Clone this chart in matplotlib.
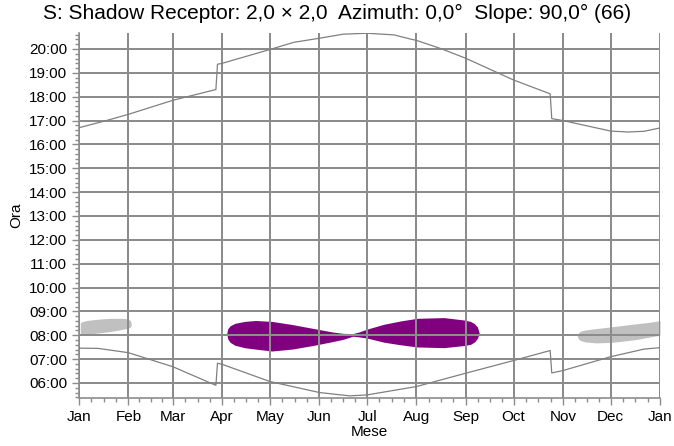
import matplotlib
matplotlib.use("Agg")
import matplotlib.pyplot as plt
import numpy as np

plt.rcParams['font.family'] = ['Liberation Sans', 'DejaVu Sans']

# ---- data (day of year, Jan 1 = 0; hours as decimal) ----
month_days = [0, 31, 59, 90, 120, 151, 181, 212, 243, 273, 304, 334, 365]
month_labels = ["Jan", "Feb", "Mar", "Apr", "May", "Jun", "Jul", "Aug",
                "Sep", "Oct", "Nov", "Dec", "Jan"]
hour_ticks = list(range(6, 21))
hour_labels = ["%02d:00" % h for h in hour_ticks]

sunset_days = [0, 15, 31, 59, 86, 87, 90, 120, 135, 151, 166, 181, 198, 208, 212,
               228, 243, 273, 296, 297, 304, 334, 345, 355, 365]
sunset_hours = [16.70, 16.96, 17.26, 17.85, 18.30, 19.36, 19.40, 19.98, 20.28, 20.45,
                20.62, 20.66, 20.59, 20.42, 20.36, 20.00, 19.61, 18.70, 18.12, 17.08,
                17.00, 16.56, 16.52, 16.55, 16.69]

sunrise_days = [0, 12, 31, 59, 86, 87, 90, 120, 151, 170, 181, 212, 243, 273,
                296, 297, 304, 334, 355, 365]
sunrise_hours = [7.46, 7.45, 7.27, 6.68, 5.90, 6.83, 6.78, 6.06, 5.60, 5.46, 5.50,
                 5.85, 6.41, 6.94, 7.36, 6.42, 6.52, 7.10, 7.42, 7.48]

# shadow (purple)
shadow_days = [92.8, 93.5, 95.0, 98.0, 104, 110.8, 121.3, 133.9, 148.5, 159.0, 166.0,
               172.0, 176.0, 181.1, 191.5, 202.0, 212.5, 229.3, 241.9, 246.0,
               248.5, 250.3, 251.4]
shadow_top = [8.08, 8.28, 8.40, 8.50, 8.58, 8.62, 8.58, 8.45, 8.27, 8.14, 8.08,
              8.07, 8.14, 8.26, 8.46, 8.60, 8.71, 8.74, 8.64, 8.58, 8.48, 8.35, 8.10]
shadow_bottom = [8.06, 7.84, 7.70, 7.58, 7.48, 7.42, 7.34, 7.42, 7.59, 7.73, 7.83,
                 7.96, 7.93, 7.88, 7.71, 7.60, 7.51, 7.48, 7.57, 7.62, 7.72, 7.87, 8.08]

# gray patches
gray1_days = [0.8, 1.5, 5, 10, 15, 20, 25, 29, 31, 32.2, 32.8]
gray1_top = [8.50, 8.56, 8.62, 8.66, 8.69, 8.71, 8.71, 8.70, 8.67, 8.62, 8.50]
gray1_bottom = [8.10, 8.04, 8.05, 8.08, 8.12, 8.16, 8.22, 8.27, 8.30, 8.34, 8.42]

gray2_days = [313.0, 313.8, 315, 318, 325, 334, 340, 350, 358, 365]
gray2_top = [8.00, 8.10, 8.17, 8.22, 8.28, 8.35, 8.40, 8.48, 8.54, 8.61]
gray2_bottom = [7.96, 7.84, 7.78, 7.72, 7.68, 7.70, 7.74, 7.82, 7.92, 8.00]

# ---- figure ----
fig = plt.figure(figsize=(6.74, 4.46), dpi=100)
ax = fig.add_axes([79/674, 1-398/446, (660-79)/674, (398-33)/446])

ax.fill_between(gray1_days, gray1_bottom, gray1_top, color='#c0c0c0', lw=0, zorder=1)
ax.fill_between(gray2_days, gray2_bottom, gray2_top, color='#c0c0c0', lw=0, zorder=1)
ax.fill_between(shadow_days, shadow_bottom, shadow_top, color='#800080', lw=0, zorder=1)

ax.set_xlim(0, 365)
ax.set_ylim(5.37, 20.67)

grid_c = '#8c8c8c'
for d in month_days:
    ax.axvline(d, color=grid_c, lw=1.44, zorder=2, snap=True)
for h in hour_ticks:
    ax.axhline(h, color=grid_c, lw=1.44, zorder=2, snap=True)

ax.plot(sunset_days, sunset_hours, color='#808080', lw=0.9, zorder=3)
ax.plot(sunrise_days, sunrise_hours, color='#808080', lw=0.9, zorder=3)

ax.set_xticks(month_days)
ax.set_xticklabels(month_labels)
minor_x = []
for a, b in zip(month_days[:-1], month_days[1:]):
    for k in range(1, 4):
        minor_x.append(a + (b - a) * k / 4)
ax.set_xticks(minor_x, minor=True)

ax.set_yticks(hour_ticks)
ax.set_yticklabels(hour_labels)
ax.set_yticks(np.arange(5.4, 20.67, 0.2), minor=True)
ax.grid(False, which='both')

for s in ['top', 'right']:
    ax.spines[s].set_visible(False)
for s in ['left', 'bottom']:
    ax.spines[s].set_color(grid_c)
    ax.spines[s].set_linewidth(1.2)

ax.tick_params(which='major', length=5, color=grid_c, labelsize=11, width=1)
ax.tick_params(which='minor', length=3, color=grid_c, width=1)

ax.set_xlabel("Mese", fontsize=11, labelpad=1)
ax.set_ylabel("Ora", fontsize=11, labelpad=4)

fig.text(0.5, 1-13/446, "S: Shadow Receptor: 2,0 \u00d7 2,0  Azimuth: 0,0\u00b0  Slope: 90,0\u00b0 (66)",
         ha='center', va='center', fontsize=15)

fig.savefig("out.png", dpi=100)
